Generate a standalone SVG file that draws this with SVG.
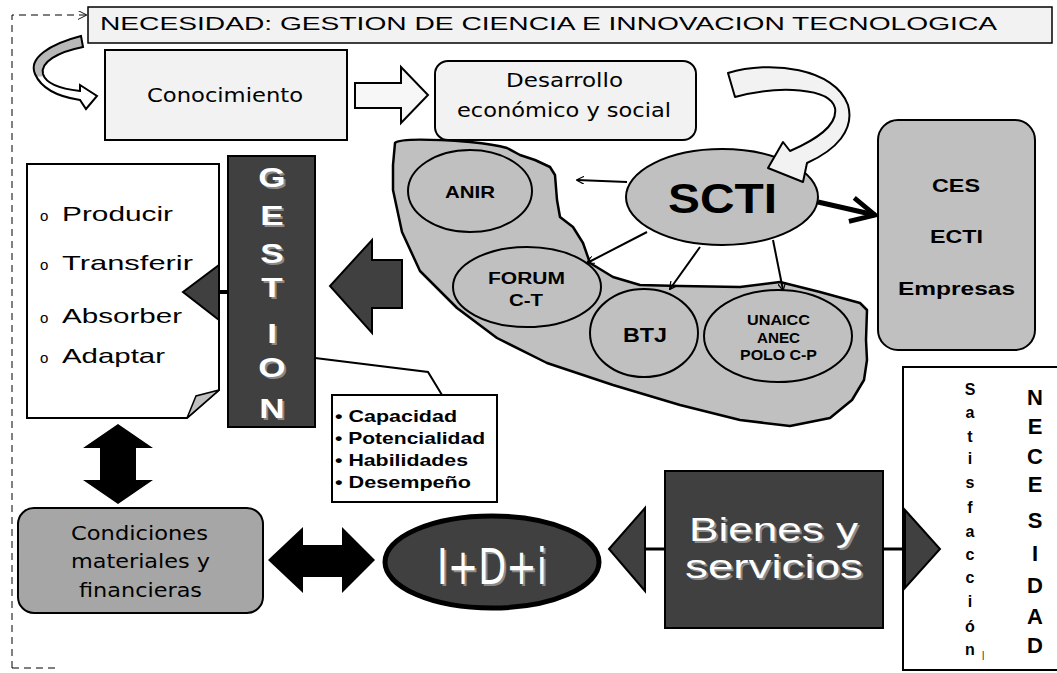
<svg xmlns="http://www.w3.org/2000/svg" width="1057" height="673" viewBox="0 0 1057 673">
<style>
.ln{fill:none;stroke:#000;stroke-width:2}
.box{stroke:#000;stroke-width:2}
.light{fill:#f2f2f2}
.gray{fill:#c0c0c0}
.dark{fill:#404040}
.sans{font-family:"Liberation Sans",Arial,sans-serif}
.dv{font-family:"DejaVu Sans","Liberation Sans",sans-serif}
.b{font-weight:bold}
.wt{fill:#fff}
.sh{fill:#8a8a8a}
</style>
<defs>
<marker id="open" viewBox="0 0 10 10" refX="9" refY="5" markerWidth="8" markerHeight="8" orient="auto" markerUnits="userSpaceOnUse">
<path d="M0,0 L10,5 L0,10" fill="none" stroke="#000" stroke-width="1.5"/>
</marker>
<marker id="openBig" viewBox="0 0 10 10" refX="9" refY="5" markerWidth="6" markerHeight="6" orient="auto">
<path d="M1,1 L9,5 L1,9" fill="none" stroke="#000" stroke-width="1.6"/>
</marker>
<marker id="dash" viewBox="0 0 10 10" refX="9" refY="5" markerWidth="9" markerHeight="9" orient="auto" markerUnits="userSpaceOnUse">
<path d="M0,0 L10,5 L0,10" fill="none" stroke="#000" stroke-width="1"/>
</marker>
<linearGradient id="rib" x1="0" y1="0" x2="0" y2="1">
<stop offset="0" stop-color="#b8b8b8"/>
<stop offset="0.55" stop-color="#b8b8b8"/>
<stop offset="0.56" stop-color="#ffffff"/>
<stop offset="1" stop-color="#ffffff"/>
</linearGradient>
</defs>
<rect width="1057" height="673" fill="#fff"/>

<g id="header">
<rect x="88" y="7" width="964" height="36" class="light" stroke="#000" stroke-width="1.5"/>
<text x="100" y="30" class="sans" font-size="18" textLength="897" lengthAdjust="spacingAndGlyphs">NECESIDAD:  GESTION DE CIENCIA E INNOVACION TECNOLOGICA</text>
</g>

<g id="conocimiento">
<rect x="105" y="50" width="242" height="90" class="light box"/>
<text x="147" y="102" class="dv" font-size="20" textLength="156" lengthAdjust="spacingAndGlyphs">Conocimiento</text>
</g>

<g id="desarrollo">
<rect x="435" y="61" width="261" height="79" rx="13" class="light box"/>
<text x="506" y="87" class="dv" font-size="20" textLength="117" lengthAdjust="spacingAndGlyphs">Desarrollo</text>
<text x="457" y="117" class="dv" font-size="20" textLength="214" lengthAdjust="spacingAndGlyphs">económico y social</text>
</g>

<g id="blob">
<path d="M395,143 C400,138 430,139 470,142 C490,144 500,146 507,148 L520,155 L535,160 L550,167 L555,175 L557,200 L560,217 L573,227 L583,243 L590,263 L613,277 L640,285 L680,286 L740,287 L780,282 L820,292 L860,303 L867,310 L866,340 L867,360 L864,380 L852,400 L830,418 L790,426 L740,420 L680,405 L613,385 L547,363 L497,338 L457,308 L420,271 L402,232 L393,190 L393,165 Z" class="gray" stroke="#000" stroke-width="2.5" stroke-linejoin="round"/>
</g>

<g id="anir">
<ellipse cx="470" cy="191" rx="62" ry="41" class="gray box"/>
<text x="445" y="198" class="sans b" font-size="17" textLength="50" lengthAdjust="spacingAndGlyphs">ANIR</text>
</g>
<g id="forum">
<ellipse cx="527" cy="287" rx="74" ry="40" class="gray box"/>
<text x="488" y="284" class="sans b" font-size="16" textLength="77" lengthAdjust="spacingAndGlyphs">FORUM</text>
<text x="509" y="306" class="sans b" font-size="16" textLength="34" lengthAdjust="spacingAndGlyphs">C-T</text>
</g>
<g id="btj">
<ellipse cx="644" cy="333" rx="54" ry="44" class="gray box"/>
<text x="623" y="342" class="sans b" font-size="20" textLength="44" lengthAdjust="spacingAndGlyphs">BTJ</text>
</g>
<g id="unaicc">
<ellipse cx="778" cy="336" rx="74" ry="46" class="gray box"/>
<text x="747" y="325" class="sans b" font-size="14" textLength="63" lengthAdjust="spacingAndGlyphs">UNAICC</text>
<text x="757" y="343" class="sans b" font-size="14" textLength="43" lengthAdjust="spacingAndGlyphs">ANEC</text>
<text x="740" y="360" class="sans b" font-size="14" textLength="77" lengthAdjust="spacingAndGlyphs">POLO C-P</text>
</g>
<g id="scti">
<ellipse cx="722" cy="197" rx="96" ry="48" class="gray box"/>
<text x="668" y="213" class="sans b" font-size="42" textLength="109" lengthAdjust="spacingAndGlyphs">SCTI</text>
</g>

<g id="ces">
<rect x="878" y="120" width="157" height="230" rx="20" class="gray box"/>
<text x="932" y="192" class="sans b" font-size="19" textLength="48" lengthAdjust="spacingAndGlyphs">CES</text>
<text x="930" y="243" class="sans b" font-size="19" textLength="53" lengthAdjust="spacingAndGlyphs">ECTI</text>
<text x="898" y="295" class="sans b" font-size="19" textLength="117" lengthAdjust="spacingAndGlyphs">Empresas</text>
</g>

<g id="documento">
<path d="M27,164 H219 V390 L187,418 H27 Z" fill="#fff" class="box"/>
<path d="M219,390 L187,418 L196,396 Z" class="gray" stroke="#000" stroke-width="1.5"/>
<g class="sans" font-size="21">
<text x="40" y="221" font-size="15">o</text>
<text x="62" y="221" textLength="111" lengthAdjust="spacingAndGlyphs">Producir</text>
<text x="40" y="270" font-size="15">o</text>
<text x="62" y="270" textLength="131" lengthAdjust="spacingAndGlyphs">Transferir</text>
<text x="40" y="323" font-size="15">o</text>
<text x="62" y="323" textLength="120" lengthAdjust="spacingAndGlyphs">Absorber</text>
<text x="40" y="363" font-size="15">o</text>
<text x="62" y="363" textLength="103" lengthAdjust="spacingAndGlyphs">Adaptar</text>
</g>
</g>

<g id="gestion">
<rect x="228" y="156" width="87" height="271" class="dark box"/>
<g class="sans b" font-size="27" text-anchor="middle">
<g transform="translate(274,2) scale(1.3,1)" class="sh">
<text x="0" y="187">G</text><text x="0" y="225">E</text><text x="0" y="263">S</text><text x="0" y="297">T</text><text x="0" y="343">I</text><text x="0" y="377">O</text><text x="0" y="418">N</text>
</g>
<g transform="translate(272,0) scale(1.3,1)" class="wt">
<text x="0" y="187">G</text><text x="0" y="225">E</text><text x="0" y="263">S</text><text x="0" y="297">T</text><text x="0" y="343">I</text><text x="0" y="377">O</text><text x="0" y="418">N</text>
</g>
</g>
</g>

<g id="cualidades">
<rect x="332" y="395" width="165" height="107" fill="#fff" class="box"/>
<g class="sans b" font-size="17">
<text x="335" y="422" textLength="122" lengthAdjust="spacingAndGlyphs">• Capacidad</text>
<text x="335" y="444" textLength="150" lengthAdjust="spacingAndGlyphs">• Potencialidad</text>
<text x="335" y="466" textLength="133" lengthAdjust="spacingAndGlyphs">• Habilidades</text>
<text x="335" y="488" textLength="136" lengthAdjust="spacingAndGlyphs">• Desempeño</text>
</g>
</g>

<g id="condiciones">
<rect x="18" y="508" width="245" height="105" rx="16" fill="#a6a6a6" class="box"/>
<g class="dv" font-size="20">
<text x="71" y="540" textLength="137" lengthAdjust="spacingAndGlyphs">Condiciones</text>
<text x="71" y="568" textLength="139" lengthAdjust="spacingAndGlyphs">materiales y</text>
<text x="79" y="597" textLength="123" lengthAdjust="spacingAndGlyphs">financieras</text>
</g>
</g>

<g id="idi">
<ellipse cx="492" cy="562" rx="107" ry="46" class="dark" stroke="#000" stroke-width="5"/>
<text x="439" y="586" class="dv sh" font-size="50" textLength="110" lengthAdjust="spacingAndGlyphs">I+D+i</text>
<text x="437" y="584" class="dv wt" font-size="50" textLength="110" lengthAdjust="spacingAndGlyphs">I+D+i</text>
</g>

<g id="bienes">
<rect x="665" y="471" width="218" height="157" class="dark box"/>
<g class="sans" font-size="34">
<text x="691" y="543" class="sh" textLength="169" lengthAdjust="spacingAndGlyphs">Bienes y</text>
<text x="689" y="541" class="wt" textLength="169" lengthAdjust="spacingAndGlyphs">Bienes y</text>
<text x="687" y="580" class="sh" textLength="178" lengthAdjust="spacingAndGlyphs">servicios</text>
<text x="685" y="578" class="wt" textLength="178" lengthAdjust="spacingAndGlyphs">servicios</text>
</g>
</g>

<g id="necesidad">
<rect x="903" y="367" width="160" height="303" fill="#fff" class="box"/>
<g class="sans b" font-size="16" text-anchor="middle">
<text x="970" y="395">S</text><text x="970" y="418">a</text><text x="970" y="442">t</text><text x="970" y="464">i</text><text x="970" y="488">s</text><text x="970" y="513">f</text><text x="970" y="537">a</text><text x="970" y="560">c</text><text x="970" y="583">c</text><text x="970" y="607">i</text><text x="970" y="632">ó</text><text x="970" y="655">n</text>
</g>
<text x="982" y="658" class="sans" font-size="9">|</text>
<g class="sans b" font-size="22" text-anchor="middle">
<text x="1035" y="405">N</text><text x="1035" y="434">E</text><text x="1035" y="464">C</text><text x="1035" y="492">E</text><text x="1035" y="528">S</text><text x="1035" y="561">I</text><text x="1035" y="593">D</text><text x="1035" y="624">A</text><text x="1035" y="653">D</text>
</g>
</g>

<g id="connectors">
<path d="M12,668 V15 H86" fill="none" stroke="#000" stroke-width="1" stroke-dasharray="7,5" marker-end="url(#dash)"/>
<path d="M12,668 H55" fill="none" stroke="#000" stroke-width="1" stroke-dasharray="7,5"/>
<path d="M81,36 C50,44 28,58 35,74 C42,90 60,97 80,100 L86,109 L97,96 L80,85 L80,91 C62,89 46,84 43,74 C40,62 58,52 83,47 Z" fill="url(#rib)" stroke="#000" stroke-width="2"/>
<path d="M355,83 L401,83 L401,67 L428,95 L401,123 L401,108 L355,108 Z" fill="#f7f7f7" stroke="#000" stroke-width="2"/>
<path d="M728,73 C770,60 835,68 848,105 C855,130 836,150 807,163 L803,182 L768,168 L783,142 L790,151 C815,140 838,126 835,108 C830,88 780,85 735,97 Z" fill="#f2f2f2" stroke="#000" stroke-width="2" stroke-linejoin="round"/>
<path d="M627,182 L577,180" class="ln" stroke-width="1.3" marker-end="url(#open)"/>
<path d="M647,232 L587,263" class="ln" stroke-width="1.3" marker-end="url(#open)"/>
<path d="M700,247 L670,289" class="ln" stroke-width="1.3" marker-end="url(#open)"/>
<path d="M773,240 L783,290" class="ln" stroke-width="1.3" marker-end="url(#open)"/>
<path d="M818,202 L875,215" fill="none" stroke="#000" stroke-width="5" marker-end="url(#openBig)"/>
<path d="M402,260 L372,260 L372,240 L330,286 L372,333 L372,308 L402,308 Z" class="dark box"/>
<path d="M219,292 H229" stroke="#000" stroke-width="4"/>
<path d="M183,292 L219,265 L219,320 Z" class="dark box"/>
<path d="M315,358 L428,372 L442,395" class="ln"/>
<path d="M118,424 L153,448 L136,448 L136,480 L153,480 L118,504 L83,480 L100,480 L100,448 L83,448 Z" fill="#000"/>
<path d="M268,560 L303,527 L303,545 L342,545 L342,527 L375,560 L342,593 L342,577 L303,577 L303,593 Z" fill="#000"/>
<path d="M645,549 H665" stroke="#000" stroke-width="3"/>
<path d="M609,549 L645,508 L645,591 Z" class="dark box"/>
<path d="M883,549 H905" stroke="#000" stroke-width="3"/>
<path d="M905,510 L940,549 L905,588 Z" class="dark box"/>
</g>
</svg>
